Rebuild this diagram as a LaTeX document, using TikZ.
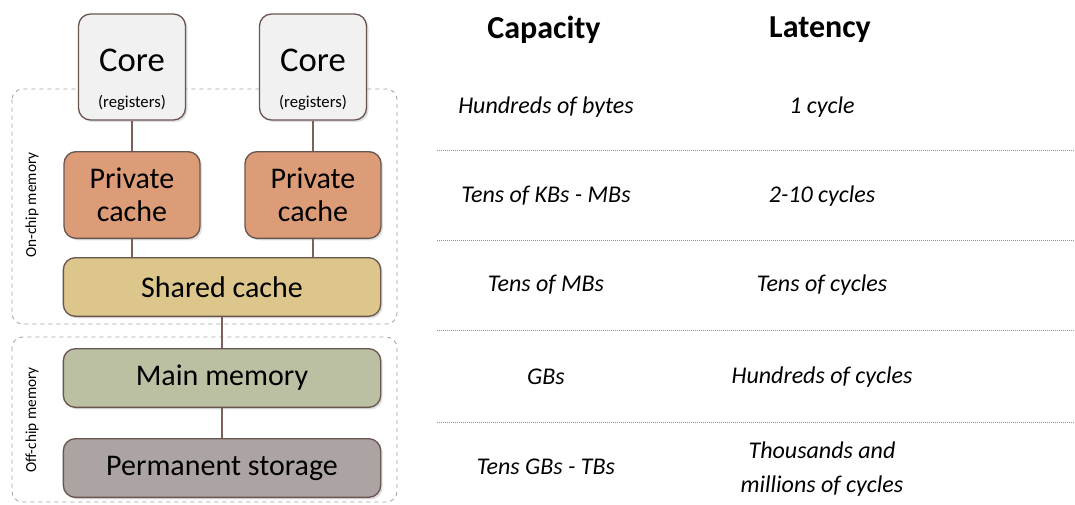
\documentclass[tikz,border=0pt]{standalone}
\usepackage{fontspec}
\setmainfont{Carlito}
\usetikzlibrary{shadows}

\definecolor{edge}{HTML}{6A5650}
\definecolor{link}{HTML}{7A625A}
\definecolor{corefill}{HTML}{F1F1F1}
\definecolor{privfill}{HTML}{DC9C78}
\definecolor{sharedfill}{HTML}{DDC68C}
\definecolor{mainfill}{HTML}{BCC0A2}
\definecolor{permfill}{HTML}{ACA4A2}
\definecolor{zone}{HTML}{A0A0A0}
\definecolor{rule}{HTML}{909090}

\begin{document}
\begin{tikzpicture}[x=0.75pt, y=-0.75pt,
	box/.style={draw=edge, line width=1pt, rounded corners=9pt, align=center,
		drop shadow={shadow xshift=1.5pt, shadow yshift=-1.5pt, opacity=0.25},
		font=\fontsize{22.5}{24.5}\selectfont},
	corebox/.style={box, fill=corefill, minimum width=80.25pt, minimum height=79.5pt},
	privbox/.style={box, fill=privfill, minimum width=102pt, minimum height=65pt},
	widebox/.style={box, minimum width=238pt, minimum height=44pt},
	zonebox/.style={draw=zone, dashed, line width=0.6pt, rounded corners=8pt},
	zonelabel/.style={rotate=90, font=\fontsize{11.5}{12}\selectfont},
	link/.style={draw=link, line width=2.2pt},
	head/.style={font=\bfseries\fontsize{24}{26}\selectfont},
	cell/.style={font=\itshape\fontsize{18}{26}\selectfont, align=center},
	sep/.style={draw=rule, densely dotted, line width=0.5pt}]
	\useasboundingbox (0,0) rectangle (1075,504);

	% memory zones
	\draw[zonebox] (12,89) rectangle (397,324);
	\draw[zonebox] (12,337) rectangle (397,502);
	\node[zonelabel] (onchip) at (32,205) {On-chip memory};
	\node[zonelabel] (offchip) at (32,420) {Off-chip memory};

	% hierarchy
	\node[privbox] (privA) at (132,195) {Private\\cache};
	\node[privbox] (privB) at (313,195) {Private\\cache};
	\node[widebox, fill=sharedfill] (shared) at (222,287) {Shared cache};
	\node[widebox, fill=mainfill] (main) at (222,378) {Main memory};
	\node[widebox, fill=permfill] (perm) at (222,468) {Permanent storage};
	\node[corebox] (coreA) at (132,67) {};
	\node[corebox] (coreB) at (313,67) {};
	\foreach \c in {coreA,coreB} {
		\node[font=\fontsize{26}{27}\selectfont] (\c-name) at ([yshift=5pt]\c.center) {Core};
		\node[font=\fontsize{12.5}{13}\selectfont] (\c-reg) at ([yshift=-27pt]\c.center) {(registers)};
	}

	\draw[link] (coreA) -- (privA);
	\draw[link] (coreB) -- (privB);
	\draw[link] (privA) -- (privA |- shared.north);
	\draw[link] (privB) -- (privB |- shared.north);
	\draw[link] (shared) -- (main);
	\draw[link] (main) -- (perm);

	% table
	\node[head] (capacity) at (544,30) {Capacity};
	\node[head] (latency) at (820,30) {Latency};

	\node[cell] (cap1) at (546,107) {Hundreds of bytes};
	\node[cell] (lat1) at (822,107) {1 cycle};
	\node[cell] (cap2) at (546,196) {Tens of KBs - MBs};
	\node[cell] (lat2) at (822,196) {2-10 cycles};
	\node[cell] (cap3) at (546,285) {Tens of MBs};
	\node[cell] (lat3) at (822,285) {Tens of cycles};
	\node[cell] (cap4) at (546,377) {GBs};
	\node[cell] (lat4) at (822,377) {Hundreds of cycles};
	\node[cell] (cap5) at (546,467) {Tens GBs - TBs};
	\node[cell] (lat5) at (822,469) {Thousands and\\millions of cycles};

	\foreach \y in {150,240,330,422}
		\draw[sep] (437,\y) -- (1075,\y);
\end{tikzpicture}
\end{document}
